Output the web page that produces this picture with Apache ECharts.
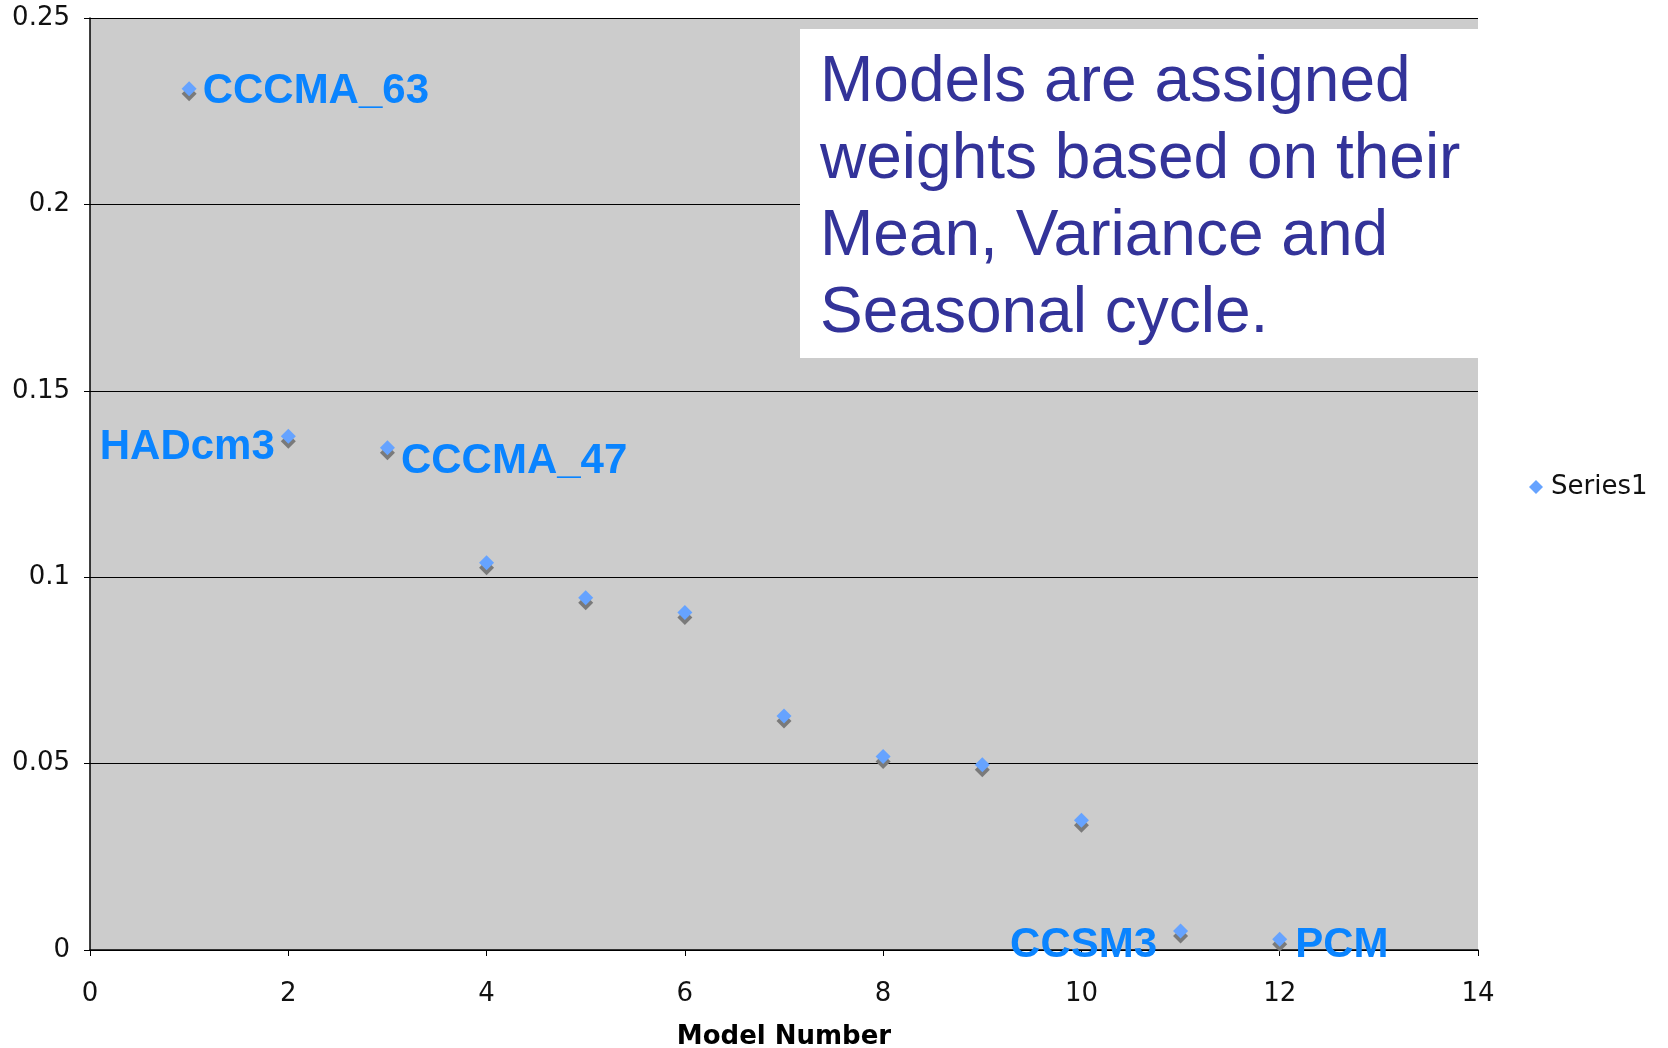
<!DOCTYPE html>
<html>
<head>
<meta charset="utf-8">
<script src="https://cdn.jsdelivr.net/npm/echarts@6/dist/echarts.min.js"></script>
<style>
  html, body { margin: 0; padding: 0; background: #fff; }
  #main { width: 1668px; height: 1048px; }
</style>
</head>
<body>
<div id="main"></div>
<script>
// model numbers and their weights
var modelNumbers = [1, 2, 3, 4, 5, 6, 7, 8, 9, 10, 11, 12];
var weights = [0.231, 0.1378, 0.1347, 0.1039, 0.0945, 0.0905, 0.0628, 0.0519, 0.0497, 0.0348, 0.0051, 0.0029];
var modelNames = ['CCCMA_63', 'HADcm3', 'CCCMA_47', '', '', '', '', '', '', '', 'CCSM3', 'PCM'];
var noteLines = ['Models are assigned', 'weights based on their', 'Mean, Variance and', 'Seasonal cycle.'];

// where each name sits relative to its point
var labelPlace = {
  'CCCMA_63': { position: 'right', offset: [0, 3] },
  'HADcm3': { position: 'left', offset: [0, 11] },
  'CCCMA_47': { position: 'right', offset: [0, 14] },
  'CCSM3': { position: 'left', offset: [-10, 14] },
  'PCM': { position: 'right', offset: [2, 6] }
};

var points = modelNumbers.map(function (m, i) {
  var item = { value: [m, weights[i]] };
  var name = modelNames[i];
  if (name) {
    item.label = {
      show: true,
      formatter: name,
      position: labelPlace[name].position,
      offset: labelPlace[name].offset
    };
  }
  return item;
});

var chart = echarts.init(document.getElementById('main'));
chart.setOption({
  animation: false,
  backgroundColor: '#ffffff',
  grid: {
    left: 90, right: 190, top: 18, bottom: 98,
    outerBoundsMode: 'none', containLabel: false,
    show: true, backgroundColor: '#cccccc', borderWidth: 0
  },
  legend: {
    data: [{ name: 'Series1', icon: 'diamond' }],
    orient: 'vertical',
    left: 1524, top: 469,
    itemWidth: 14, itemHeight: 14, itemGap: 8,
    textStyle: { fontFamily: 'DejaVu Sans', fontSize: 26, color: '#111', padding: [0, 0, 0, 3] }
  },
  xAxis: {
    type: 'value', min: 0, max: 14, interval: 2,
    name: 'Model Number', nameLocation: 'middle', nameGap: 74,
    nameTextStyle: { fontFamily: 'DejaVu Sans', fontWeight: 'bold', fontSize: 26, color: '#000' },
    axisLine: { show: true, lineStyle: { color: '#000', width: 1.5 } },
    axisTick: { show: true, inside: false, length: 6, lineStyle: { color: '#000' } },
    axisLabel: { fontFamily: 'DejaVu Sans', fontSize: 26, color: '#111', margin: 31 },
    splitLine: { show: false }
  },
  yAxis: {
    type: 'value', min: 0, max: 0.25, interval: 0.05,
    axisLine: { show: true, lineStyle: { color: '#000', width: 1.5 } },
    axisTick: { show: true, inside: false, length: 6, lineStyle: { color: '#000' } },
    axisLabel: { fontFamily: 'DejaVu Sans', fontSize: 26, color: '#111', margin: 20 },
    splitLine: { show: true, lineStyle: { color: '#000', width: 1 } }
  },
  series: [{
    name: 'Series1',
    type: 'scatter',
    symbol: 'diamond',
    symbolSize: 15,
    itemStyle: {
      color: '#66a3ff',
      shadowColor: '#7a7a7a', shadowOffsetX: 0, shadowOffsetY: 5, shadowBlur: 0, opacity: 1
    },
    label: {
      fontFamily: 'Liberation Sans', fontWeight: 'bold', fontSize: 42, color: '#0a84ff',
      distance: 6
    },
    data: points
  }],
  graphic: [
    {
      type: 'rect', left: 800, top: 29, z: 10,
      shape: { width: 678, height: 329 },
      style: { fill: '#ffffff' }
    },
    {
      type: 'text', left: 820, top: 45, z: 11,
      style: {
        text: noteLines.join('\n'),
        fontFamily: 'Liberation Sans', fontSize: 64, lineHeight: 77,
        fill: '#333399'
      }
    }
  ]
});
</script>
</body>
</html>
